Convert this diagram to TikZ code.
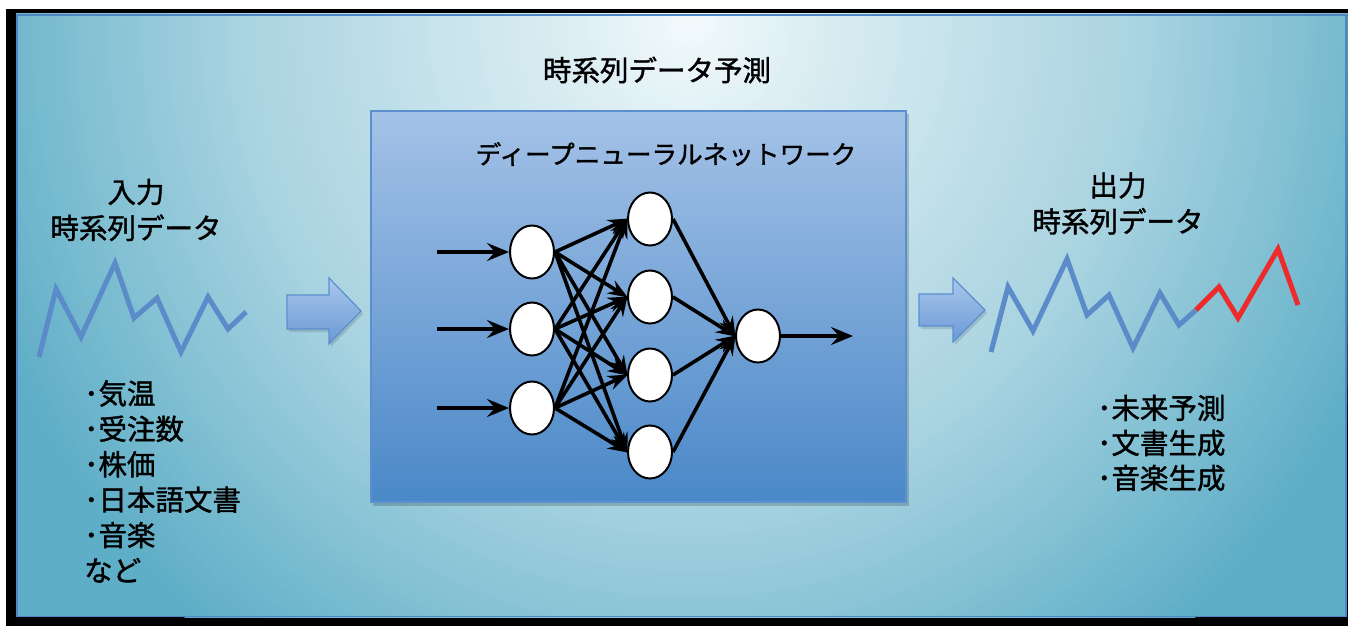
\documentclass[tikz,border=0pt]{standalone}
\usepackage{fontspec}
\setmainfont{Noto Sans CJK JP}[FakeBold=1.3]
\usetikzlibrary{arrows.meta,shapes.geometric}
\definecolor{bgA}{HTML}{F4FAFC}
\definecolor{bgB}{HTML}{DCEEF3}
\definecolor{bgC}{HTML}{A8D3E0}
\definecolor{bgD}{HTML}{5EAEC7}
\definecolor{panelline}{HTML}{4F86C6}
\definecolor{boxtop}{HTML}{A4C2E7}
\definecolor{boxbot}{HTML}{4A88C8}
\definecolor{boxline}{HTML}{5B8FD0}
\definecolor{arrtop}{HTML}{A9C7EC}
\definecolor{arrbot}{HTML}{6A99D5}
\definecolor{waveblue}{HTML}{5B8BC9}
\definecolor{wavered}{HTML}{EE2B2B}
\begin{document}
\begin{tikzpicture}[x=1pt,y=-1pt,
  lbl/.style={inner sep=0pt, font=\fontsize{28.5}{36}\selectfont, text=black},
  neuron/.style={ellipse, draw=black, fill=white, line width=2pt, minimum width=44pt, minimum height=53pt, inner sep=0pt},
  edge/.style={line width=3.6pt, -{Stealth[length=20pt,width=15pt,inset=7pt]}, shorten >=-1pt},
  inarrow/.style={line width=4.6pt, -{Stealth[length=22pt,width=18pt,inset=8pt]}},
  wave/.style={line width=5pt, line join=miter},
  blockarrow/.style={top color=arrtop, bottom color=arrbot, draw=boxline, line width=1.2pt, line join=miter}
]
\useasboundingbox (0,0) rectangle (1348,626);
% frame
\fill[white] (0,0) rectangle (1348,626);
\fill[black] (6,9) rectangle (1348,626);
\begin{scope}
  \clip (16,14) rectangle (1347,617);
  \fill[bgD] (16,14) rectangle (1347,617);
  \foreach \k in {90,89,...,1}{
    \pgfmathsetmacro\f{\k/90}
    \pgfmathtruncatemacro\pa{min(100,max(0,\f/0.16*100))}
    \pgfmathtruncatemacro\pb{min(100,max(0,(\f-0.16)/0.44*100))}
    \pgfmathtruncatemacro\pc{min(100,max(0,(\f-0.6)/0.4*100))}
    \colorlet{ringc}{bgB!\pa!bgA}
    \colorlet{ringc}{bgC!\pb!ringc}
    \colorlet{ringc}{bgD!\pc!ringc}
    \fill[ringc] (690,20) ellipse ({760*\f} and {800*\f});
  }
\end{scope}
\draw[panelline, line width=1.6pt] (16.8,14.8) rectangle (1346.2,616.6);

% central box
\fill[black, opacity=0.18] (373,114) rectangle (909,506);
\shade[top color=boxtop, bottom color=boxbot, draw=boxline, line width=1.2pt] (371,111) rectangle (906,502);

% block arrows
\fill[black, opacity=0.12] (289,298) -- (331,298) -- (331,281) -- (363,314) -- (331,347) -- (331,332) -- (289,332) -- cycle;
\path[blockarrow] (287,295) -- (329,295) -- (329,278) -- (361,311) -- (329,344) -- (329,329) -- (287,329) -- cycle;
\fill[black, opacity=0.12] (921,297) -- (955,297) -- (955,281) -- (987,313) -- (955,345) -- (955,329) -- (921,329) -- cycle;
\path[blockarrow] (919,294) -- (953,294) -- (953,278) -- (985,310) -- (953,342) -- (953,326) -- (919,326) -- cycle;

% waves
\draw[wave, waveblue] (39,357) -- (56,289) -- (81,337) -- (115,263) -- (134,318) -- (157,298) -- (181,352) -- (208,297) -- (228,329) -- (246,312);
\draw[wave, waveblue] (991,352) -- (1008,287) -- (1033,331) -- (1067,259) -- (1087,315) -- (1109,295) -- (1133,348) -- (1160,293) -- (1179,325) -- (1196,310);
\draw[wave, wavered] (1196,310) -- (1219,287) -- (1238,318) -- (1278,249) -- (1298,305);

% texts
\node[lbl, font=\fontsize{28.5}{34}\selectfont] (title) at (657,70) {時系列データ予測};
\node[lbl, font=\fontsize{25.6}{30}\selectfont] (dnn) at (666,154) {ディープニューラルネットワーク};
\node[lbl, align=center] (inlabel) at (136,210) {入力\\時系列データ};
\node[lbl, align=center] (outlabel) at (1118,203.5) {出力\\時系列データ};
\node[lbl, align=left, anchor=west, font=\fontsize{28.5}{35.4}\selectfont] (inlist) at (84,481.5) {･気温\\･受注数\\･株価\\･日本語文書\\･音楽\\など};
\node[lbl, align=left, anchor=west, font=\fontsize{28.5}{35}\selectfont] (outlist) at (1097,443) {･未来予測\\･文書生成\\･音楽生成};

% neural network
\node[neuron] (i1) at (532,252) {};
\node[neuron] (i2) at (532,329) {};
\node[neuron] (i3) at (532,408) {};
\node[neuron] (h1) at (650,219) {};
\node[neuron] (h2) at (650,297) {};
\node[neuron] (h3) at (650,375) {};
\node[neuron] (h4) at (650,452) {};
\node[neuron] (o) at (758,336) {};
\coordinate (s1) at (437,252);
\coordinate (s2) at (437,329);
\coordinate (s3) at (437,408);
\coordinate (e) at (853,336);
\foreach \k in {1,2,3} {\draw[inarrow] (s\k) -- (i\k.west);}
\foreach \i in {1,2,3} {\foreach \j in {1,2,3,4} {\draw[edge] (i\i.east) -- (h\j.west);}}
\foreach \j in {1,2,3,4} {\draw[edge] (h\j.east) -- (o.west);}
\draw[inarrow] (o.east) -- (e);
\end{tikzpicture}
\end{document}
